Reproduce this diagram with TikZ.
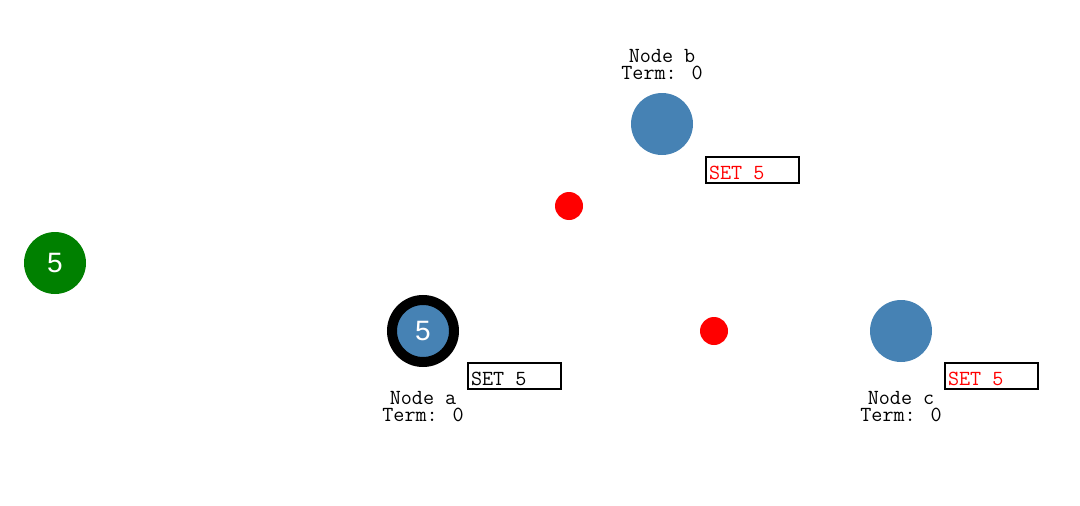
\documentclass[tikz,border=0pt]{standalone}
\usepackage{fontspec}
\newfontfamily\sansfam{Liberation Sans}
\newcommand\labfont{\ttfamily\fontsize{21.5}{17}\selectfont}
\definecolor{steel}{HTML}{4682B4}
\definecolor{grn}{HTML}{008000}
\definecolor{rd}{HTML}{FF0000}
\tikzset{
  raft/.style={circle, fill=steel, minimum size=62pt, inner sep=0pt, text=white, font=\sansfam\fontsize{28}{28}\selectfont},
  leader/.style={draw=black, line width=10pt},
  client/.style={circle, fill=grn, minimum size=62pt, inner sep=0pt, text=white, font=\sansfam\fontsize{28}{28}\selectfont},
  msg/.style={circle, fill=rd, minimum size=28pt, inner sep=0pt},
  lbl/.style={anchor=base, inner sep=0pt, align=center, font=\labfont},
  logbox/.style={draw=black, line width=2pt, anchor=north west, inner xsep=3pt, inner ysep=0pt,
     text height=22pt, text depth=4pt, font=\labfont},
}
\newcommand\logtext[1]{\makebox[87pt][l]{#1}}
\begin{document}
\begin{tikzpicture}[x=1pt,y=-1pt]
\useasboundingbox (0,0) rectangle (1080,506);
% client
\node[client] (cl) at (55,263) {5};
% servers
\node[raft, leader] (a) at (423,331) {5};
\node[raft] (b) at (662,124) {};
\node[raft] (c) at (901,331) {};
% messages
\node[msg] (m1) at (569,206) {};
\node[msg] (m2) at (714,331) {};
% labels
\node[lbl] (bl) at (662,79) {Node b\\Term: 0};
\node[lbl] (al) at (423,421) {Node a\\Term: 0};
\node[lbl] (cl) at (901,421) {Node c\\Term: 0};
% logs
\node[logbox, text=rd] (blog) at (705,156) {\logtext{SET\ 5}};
\node[logbox, text=black] (alog) at (467,362) {\logtext{SET\ 5}};
\node[logbox, text=rd] (clog) at (944,362) {\logtext{SET\ 5}};
\end{tikzpicture}
\end{document}
